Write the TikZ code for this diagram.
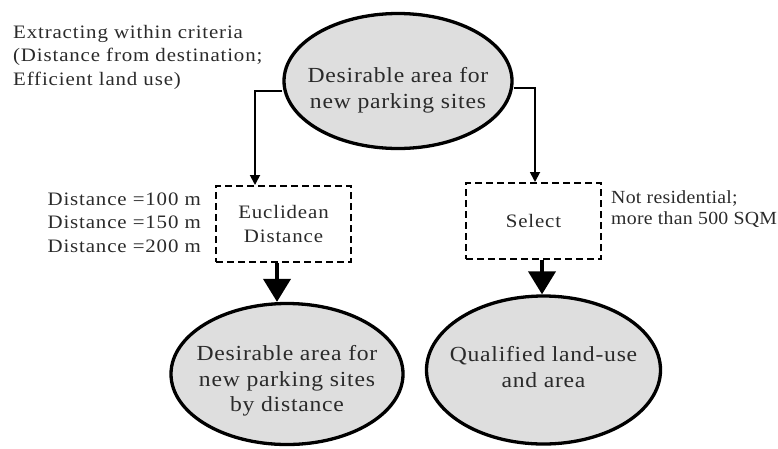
\documentclass[tikz,border=0pt]{standalone}
\usepackage{fontspec}
\setmainfont{Liberation Serif}[FakeStretch=1.1, LetterSpace=4.5]
\newfontfamily\ovalfont{Liberation Serif}[FakeStretch=1.1, LetterSpace=3.5]
\newfontfamily\notefont{Liberation Serif}[FakeStretch=1.07, LetterSpace=1.5]
\usetikzlibrary{arrows.meta,shapes.geometric}

\definecolor{inkgray}{HTML}{2A2A2A}
\definecolor{ovalfill}{HTML}{DEDEDE}

\begin{document}
\begin{tikzpicture}[x=1pt,y=-1pt,
  oval/.style={ellipse, draw=black, line width=3.3pt, fill=ovalfill, inner sep=0pt},
  ovaltext/.style={align=center, text=inkgray, inner sep=0pt,
    font=\ovalfont\fontsize{21.5}{25.5}\selectfont},
  stepbox/.style={draw=black, line width=2pt, dash pattern=on 7pt off 4pt,
    minimum width=135pt, minimum height=76pt, align=center, text=inkgray,
    font=\fontsize{19}{24}\selectfont},
  note/.style={text=inkgray, inner sep=0pt, font=\fontsize{19}{23.5}\selectfont},
  thinarrow/.style={line width=1.8pt, -{Triangle[length=10pt,width=10pt]}},
  bigarrow/.style={line width=4pt, -{Triangle[length=23pt,width=27pt]}}
]
\useasboundingbox (0,0) rectangle (778,448);

% ovals
\node[oval, minimum width=228pt, minimum height=135pt] (top) at (398,81) {};
\node[ovaltext, yshift=-9pt] (toptext) at (top.center)
  {Desirable area for\\new parking sites};

\node[oval, minimum width=232pt, minimum height=141pt] (dist) at (287,374) {};
\node[ovaltext, yshift=-7pt] (disttext) at (dist.center)
  {Desirable area for\\new parking sites\\by distance};

\node[oval, minimum width=234pt, minimum height=148pt] (qual) at (543.5,370) {};
\node[ovaltext, yshift=3pt] (qualtext) at (qual.center)
  {Qualified land-use\\and area};

% process boxes
\node[stepbox] (eucl) at (283.5,224) {Euclidean\\Distance};
\node[stepbox] (sel) at (533.5,221) {Select};

% side notes (base anchor sits on the last line)
\node[note, anchor=base west, align=left] (criteria) at (13,85)
  {Extracting within criteria\\(Distance from destination;\\Efficient land use)};
\node[note, anchor=base east, align=right] (radii) at (201,252)
  {Distance =100 m\\Distance =150 m\\Distance =200 m};
\node[note, anchor=base west, align=left,
  font=\notefont\fontsize{18.5}{21}\selectfont] (filter) at (611,224)
  {Not residential;\\more than 500 SQM};

% connectors
\coordinate (lelbow) at (255,91);
\coordinate (relbow) at (535,88);
\coordinate (lshaft) at (277,0);
\coordinate (rshaft) at (542,0);

\draw[thinarrow] (top.west |- lelbow) -- (lelbow) -- (lelbow |- eucl.north);
\draw[thinarrow] (top.east |- relbow) -- (relbow) -- (relbow |- sel.north);
\draw[bigarrow] (lshaft |- eucl.south) -- (lshaft |- dist.north);
\draw[bigarrow] (rshaft |- sel.south) -- (rshaft |- qual.north);
\end{tikzpicture}
\end{document}
